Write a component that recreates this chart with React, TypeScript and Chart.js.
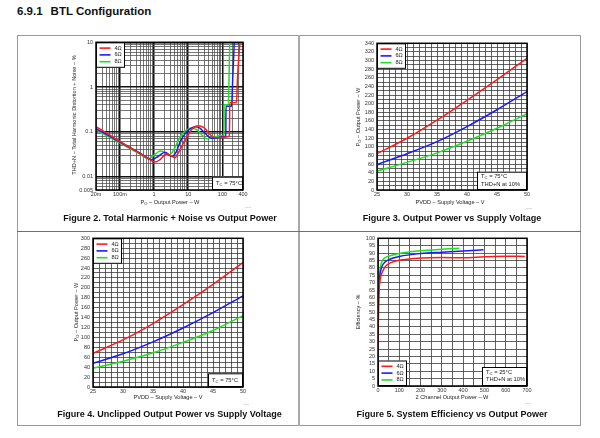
import React, { useEffect, useRef } from 'react';
import { Chart, registerables } from 'chart.js';

Chart.register(...registerables);

const FONT = '"Liberation Sans", Arial, Helvetica, sans-serif';
const RED = '#ff1a1a';
const BLUE = '#1a1aff';
const GREEN = '#1ee01e';
const loads = ['4Ω', '6Ω', '8Ω'];

// Figure 2 — THD+N (%) vs output power (W), one curve per load
const thd4Power = [0.02, 0.05, 0.1, 0.2, 0.4, 0.76, 1.06, 1.5, 2.3, 3.2, 4.1, 5, 7.1, 11.2, 14, 19.6, 28, 40, 54, 75, 105, 160, 164, 259, 275, 325];
const thd4 = [0.13, 0.085, 0.061, 0.044, 0.032, 0.0238, 0.021, 0.024, 0.032, 0.029, 0.0263, 0.033, 0.054, 0.1, 0.122, 0.137, 0.125, 0.095, 0.075, 0.074, 0.0755, 0.08, 0.45, 0.45, 1.5, 10];
const thd6Power = [0.02, 0.05, 0.1, 0.2, 0.4, 0.85, 1.3, 2.08, 3.3, 4.5, 5.7, 8, 11, 15.7, 22, 30, 48, 75, 105, 126, 127, 185, 200, 222];
const thd6 = [0.118, 0.08, 0.059, 0.044, 0.033, 0.0238, 0.028, 0.035, 0.028, 0.036, 0.058, 0.09, 0.115, 0.13, 0.12, 0.095, 0.072, 0.074, 0.078, 0.08, 0.37, 0.37, 1.5, 10];
const thd8Power = [0.02, 0.05, 0.1, 0.2, 0.4, 0.68, 1.0, 1.49, 2.0, 2.6, 3.5, 4.6, 6, 9, 12.5, 18, 25, 34.5, 50, 84.5, 111, 112, 148, 164];
const thd8 = [0.11, 0.075, 0.056, 0.042, 0.031, 0.025, 0.03, 0.037, 0.035, 0.0297, 0.036, 0.054, 0.08, 0.11, 0.122, 0.11, 0.085, 0.0696, 0.073, 0.082, 0.085, 0.4, 0.4, 10];
const thdPowerTicks = [0.02, 0.1, 1, 10, 100, 400];
const thdPowerLabels = ['20m', '100m', '1', '10', '100', '400'];
const thdTicks = [0.005, 0.01, 0.1, 1, 10];
const thdLabels = ['0.005', '0.01', '0.1', '1', '10'];

// Figure 3 — output power at 10% THD+N vs supply voltage
const supplyVoltage = [25, 30, 35, 40, 45, 50];
const maxPower4 = [84, 120, 162, 208, 256, 305];
const maxPower6 = [59, 84, 112, 147, 186, 228];
const maxPower8 = [44, 64, 86, 113, 143, 177];

// Figure 4 — unclipped output power vs supply voltage
const unclipped4 = [68, 95, 128, 166, 207, 251];
const unclipped6 = [48, 67, 91, 119, 150, 184];
const unclipped8 = [38, 52, 69, 90, 114, 144];

// Figure 5 — system efficiency vs 2-channel output power
const eff4Power = [0.5, 2, 5, 10, 20, 35, 60, 100, 150, 200, 300, 400, 500, 600, 690];
const eff4 = [28, 50, 64, 72, 77, 81, 83.5, 85.2, 86, 86.6, 87, 86.8, 87.5, 87.9, 87.7];
const eff6Power = [0.5, 2, 5, 10, 20, 35, 50, 100, 200, 300, 400, 496];
const eff6 = [28, 55, 68, 76, 81.4, 84.2, 85.5, 87.7, 89.7, 90.6, 91.4, 92.2];
const eff8Power = [0.5, 2, 5, 10, 20, 35, 50, 100, 200, 300, 382];
const eff8 = [30, 60, 72, 79.5, 84.8, 87, 87.9, 89.7, 91.5, 92.6, 93.3];

type Seg = { t: string; sub?: boolean };

const pts = (xs: number[], ys: number[]) => xs.map((x, i) => ({ x, y: ys[i] }));

const series = (label: string, color: string, data: { x: number; y: number }[]) => ({
  label,
  data,
  borderColor: color,
  backgroundColor: color,
  borderWidth: 1.5,
  pointRadius: 0,
  cubicInterpolationMode: 'monotone',
  fill: false,
});

const steps = (min: number, max: number, step: number) => {
  const out: number[] = [];
  for (let v = min; v <= max + 1e-9; v += step) out.push(Math.round(v * 1000) / 1000);
  return out;
};

const logSteps = (min: number, max: number) => {
  const out: number[] = [];
  for (let e = -4; e <= 4; e++) {
    for (let m = 1; m <= 9; m++) {
      const v = +(m * Math.pow(10, e)).toPrecision(6);
      if (v >= min * 0.9999 && v <= max * 1.0001) out.push(v);
    }
  }
  return out;
};

const isDecade = (v: number) => v > 0 && Math.abs(Math.log10(v) - Math.round(Math.log10(v))) < 1e-6;

const tickFont = { family: FONT, size: 5.5 };

function fitTo(size: number) {
  return (s: any) => {
    if (s.isHorizontal()) s.height = size;
    else s.width = size;
  };
}

function linAxis(min: number, max: number, gridStep: number, labelStep: number, fit: number, horizontal: boolean) {
  return {
    type: 'linear',
    min,
    max,
    afterBuildTicks: (s: any) => {
      s.ticks = steps(min, max, gridStep).map((value) => ({ value }));
    },
    afterFit: fitTo(fit),
    ticks: {
      autoSkip: false,
      maxRotation: 0,
      minRotation: 0,
      padding: horizontal ? 1.5 : 3,
      font: tickFont,
      color: '#333',
      callback: (v: number) => (Math.abs(v % labelStep) < 1e-6 ? String(v) : ''),
    },
    grid: { drawTicks: false, color: '#3c3c3c', lineWidth: 0.8 },
    border: { display: false },
  };
}

function logAxis(min: number, max: number, labelVals: number[], labelTexts: string[], fit: number, horizontal: boolean) {
  return {
    type: 'logarithmic',
    min,
    max,
    afterBuildTicks: (s: any) => {
      s.ticks = logSteps(min, max).map((value) => ({ value }));
    },
    afterFit: fitTo(fit),
    ticks: {
      autoSkip: false,
      maxRotation: 0,
      minRotation: 0,
      padding: horizontal ? 1.5 : 3,
      font: tickFont,
      color: '#333',
      callback: (v: number) => {
        const i = labelVals.findIndex((l) => Math.abs(l - v) / l < 1e-6);
        return i >= 0 ? labelTexts[i] : '';
      },
    },
    grid: {
      drawTicks: false,
      color: (c: any) => (isDecade(c.tick?.value) ? '#111' : '#4a4a4a'),
      lineWidth: (c: any) => (isDecade(c.tick?.value) ? 1.5 : 0.75),
    },
    border: { display: false },
  };
}

function drawSegs(ctx: CanvasRenderingContext2D, segs: Seg[], x: number, y: number, size: number) {
  let cx = x;
  for (const s of segs) {
    const fs = s.sub ? size * 0.72 : size;
    ctx.font = `${fs}px ${FONT}`;
    ctx.fillText(s.t, cx, s.sub ? y + size * 0.28 : y);
    cx += ctx.measureText(s.t).width;
  }
}

// Legend box, condition note and plot frame, drawn over the curves
const panelDecor = {
  id: 'panelDecor',
  afterDatasetsDraw(chart: any, _args: any, opts: any) {
    const { ctx, chartArea: a } = chart;
    ctx.save();
    if (opts.legend) {
      const w = 29;
      const h = 25.5;
      const x0 = a.left;
      const y0 = opts.legend === 'top' ? a.top : a.bottom - h;
      ctx.fillStyle = '#fff';
      ctx.fillRect(x0, y0, w, h);
      ctx.strokeStyle = '#000';
      ctx.lineWidth = 1;
      ctx.strokeRect(x0 + 0.5, y0 + 0.5, w - 1, h - 1);
      chart.data.datasets.forEach((ds: any, i: number) => {
        const ry = y0 + 5.8 + i * 6.8;
        ctx.strokeStyle = ds.borderColor;
        ctx.lineWidth = 1.6;
        ctx.beginPath();
        ctx.moveTo(x0 + 3.5, ry);
        ctx.lineTo(x0 + 14.5, ry);
        ctx.stroke();
        ctx.fillStyle = '#222';
        ctx.font = `5.5px ${FONT}`;
        ctx.textBaseline = 'middle';
        ctx.textAlign = 'left';
        ctx.fillText(ds.label, x0 + 18.5, ry);
      });
    }
    if (opts.note) {
      const { w, h, lines } = opts.note;
      const x0 = a.right - w;
      const y0 = a.bottom - h;
      ctx.fillStyle = '#fff';
      ctx.fillRect(x0, y0, w, h);
      ctx.strokeStyle = '#000';
      ctx.lineWidth = 1;
      ctx.strokeRect(x0 + 0.5, y0 + 0.5, w - 1, h - 1);
      ctx.fillStyle = '#222';
      ctx.textBaseline = 'middle';
      ctx.textAlign = 'left';
      lines.forEach((segs: Seg[], i: number) => {
        const ly = lines.length === 1 ? y0 + h / 2 : y0 + 5 + i * 7.4;
        drawSegs(ctx, segs, x0 + 4, ly, 5.8);
      });
    }
    ctx.strokeStyle = '#000';
    ctx.lineWidth = 1.5;
    ctx.strokeRect(a.left, a.top, a.right - a.left, a.bottom - a.top);
    ctx.restore();
  },
};

function makeConfig(datasets: any[], x: any, y: any, padding: any, decor: any) {
  return {
    type: 'line',
    data: { datasets },
    options: {
      animation: false,
      responsive: false,
      devicePixelRatio: 1,
      layout: { padding },
      plugins: { legend: { display: false }, tooltip: { enabled: false }, panelDecor: decor },
      scales: { x, y },
    },
    plugins: [panelDecor],
  } as any;
}

function ChartPanel({ left, top, width, height, config }: { left: number; top: number; width: number; height: number; config: () => any }) {
  const ref = useRef<HTMLCanvasElement>(null);
  useEffect(() => {
    const chart = new Chart(ref.current as HTMLCanvasElement, config());
    return () => chart.destroy();
  }, []);
  return (
    <canvas
      ref={ref}
      width={width}
      height={height}
      style={{ position: 'absolute', left, top, width, height }}
    />
  );
}

const tc75: Seg[] = [{ t: 'T' }, { t: 'C', sub: true }, { t: ' = 75°C' }];
const tc25: Seg[] = [{ t: 'T' }, { t: 'C', sub: true }, { t: ' = 25°C' }];
const thd10: Seg[] = [{ t: 'THD+N at 10%' }];

const thdConfig = () =>
  makeConfig(
    [
      series(loads[0], RED, pts(thd4Power, thd4)),
      series(loads[1], BLUE, pts(thd6Power, thd6)),
      series(loads[2], GREEN, pts(thd8Power, thd8)),
    ],
    logAxis(0.02, 400, thdPowerTicks, thdPowerLabels, 10, true),
    logAxis(0.005, 10, thdTicks, thdLabels, 36, false),
    { left: 0, top: 5, right: 7, bottom: 0 },
    { legend: 'top', note: { w: 31, h: 13.3, lines: [tc75] } }
  );

const powerConfig = () =>
  makeConfig(
    [
      series(loads[0], RED, pts(supplyVoltage, maxPower4)),
      series(loads[1], BLUE, pts(supplyVoltage, maxPower6)),
      series(loads[2], GREEN, pts(supplyVoltage, maxPower8)),
    ],
    linAxis(25, 50, 1, 5, 10, true),
    linAxis(0, 340, 10, 20, 37, false),
    { left: 0, top: 5, right: 8, bottom: 0 },
    { legend: 'top', note: { w: 50, h: 18.3, lines: [tc75, thd10] } }
  );

const unclippedConfig = () =>
  makeConfig(
    [
      series(loads[0], RED, pts(supplyVoltage, unclipped4)),
      series(loads[1], BLUE, pts(supplyVoltage, unclipped6)),
      series(loads[2], GREEN, pts(supplyVoltage, unclipped8)),
    ],
    linAxis(25, 50, 1, 5, 10, true),
    linAxis(0, 300, 10, 20, 38, false),
    { left: 0, top: 5, right: 7, bottom: 0 },
    { legend: 'top', note: { w: 35, h: 13.7, lines: [tc75] } }
  );

const efficiencyConfig = () =>
  makeConfig(
    [
      series(loads[0], RED, pts(eff4Power, eff4)),
      series(loads[1], BLUE, pts(eff6Power, eff6)),
      series(loads[2], GREEN, pts(eff8Power, eff8)),
    ],
    linAxis(0, 700, 50, 100, 10, true),
    linAxis(0, 100, 5, 5, 38, false),
    { left: 0, top: 5, right: 8, bottom: 0 },
    { legend: 'bottom', note: { w: 45, h: 19, lines: [tc25, thd10] } }
  );

const abs = (x: number, y: number, extra: React.CSSProperties = {}): React.CSSProperties => ({
  position: 'absolute',
  left: x,
  top: y,
  whiteSpace: 'nowrap',
  lineHeight: 1,
  fontFamily: FONT,
  ...extra,
});

const sub = (t: string) => <span style={{ fontSize: '0.72em', verticalAlign: '-0.25em' }}>{t}</span>;

function AxisTitle({ x, y, rotate, children }: { x: number; y: number; rotate?: boolean; children: React.ReactNode }) {
  return (
    <div
      style={abs(x, y, {
        fontSize: 5.6,
        color: '#222',
        transform: `translate(-50%, -50%)${rotate ? ' rotate(-90deg)' : ''}`,
      })}
    >
      {children}
    </div>
  );
}

function Caption({ x, y, children }: { x: number; y: number; children: React.ReactNode }) {
  return (
    <div style={abs(x, y, { fontSize: 9, fontWeight: 'bold', color: '#111', transform: 'translate(-50%, -50%)' })}>
      {children}
    </div>
  );
}

function Code({ x, y, t }: { x: number; y: number; t: string }) {
  return <div style={abs(x, y, { fontSize: 2.5, color: '#aaa', transform: 'translate(-50%, -50%)' })}>{t}</div>;
}

export default function App() {
  return (
    <div style={{ position: 'fixed', left: 0, top: 0, width: 600, height: 438, background: '#fff', overflow: 'hidden' }}>
      <div style={abs(17, 6, { fontSize: 11.5, fontWeight: 'bold', color: '#111' })}>
        6.9.1<span style={{ marginLeft: 8 }}>BTL Configuration</span>
      </div>

      {/* outer frame and panel dividers */}
      <div style={{ position: 'absolute', left: 17, top: 35, width: 564, height: 391, border: '1.5px solid #9a9a9a', boxSizing: 'border-box' }} />
      <div style={{ position: 'absolute', left: 298, top: 35, width: 2, height: 391, background: '#a8a8a8' }} />
      <div style={{ position: 'absolute', left: 17, top: 230.5, width: 564, height: 1, background: '#707070' }} />

      <ChartPanel left={60} top={36} width={190} height={164} config={thdConfig} />
      <ChartPanel left={340} top={37} width={195} height={163} config={powerConfig} />
      <ChartPanel left={55} top={232} width={195} height={165} config={unclippedConfig} />
      <ChartPanel left={340} top={232} width={195} height={164} config={efficiencyConfig} />

      <AxisTitle x={75} y={115} rotate>
        THD+N – Total Harmonic Distortion + Noise – %
      </AxisTitle>
      <AxisTitle x={170} y={203.3}>
        P{sub('O')} – Output Power – W
      </AxisTitle>
      <Caption x={170} y={217.7}>Figure 2. Total Harmonic + Noise vs Output Power</Caption>
      <Code x={248} y={208} t="C001" />

      <AxisTitle x={359} y={117} rotate>
        P{sub('O')} – Output Power – W
      </AxisTitle>
      <AxisTitle x={450} y={203.3}>PVDD – Supply Voltage – V</AxisTitle>
      <Caption x={452} y={218.3}>Figure 3. Output Power vs Supply Voltage</Caption>
      <Code x={529} y={209} t="C002" />

      <AxisTitle x={77} y={312} rotate>
        P{sub('O')} – Output Power – W
      </AxisTitle>
      <AxisTitle x={168} y={398.3}>PVDD – Supply Voltage – V</AxisTitle>
      <Caption x={169.5} y={414}>Figure 4. Unclipped Output Power vs Supply Voltage</Caption>
      <Code x={246} y={405} t="C003" />

      <AxisTitle x={359} y={311.5} rotate>
        Efficiency – %
      </AxisTitle>
      <AxisTitle x={452} y={398.3}>2 Channel Output Power – W</AxisTitle>
      <Caption x={452} y={414}>Figure 5. System Efficiency vs Output Power</Caption>
      <Code x={528} y={404} t="C004" />
    </div>
  );
}
